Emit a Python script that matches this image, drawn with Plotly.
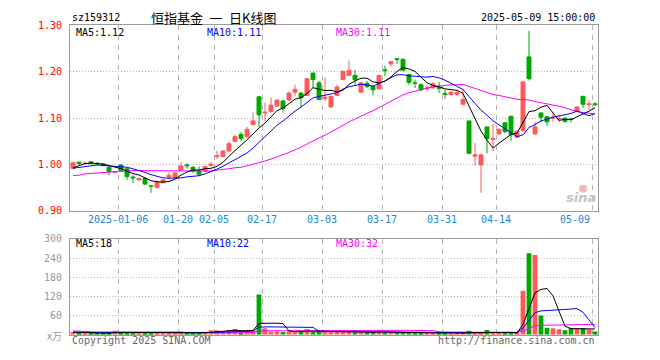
import pandas as pd
import plotly.graph_objects as go

# ---------------- data ----------------
holidays = ["2025-01-01", "2025-01-28", "2025-01-29", "2025-01-30", "2025-01-31",
            "2025-02-03", "2025-02-04", "2025-04-04", "2025-05-01", "2025-05-02", "2025-05-05"]
trade_dates = [d.strftime("%Y-%m-%d") for d in pd.bdate_range("2024-12-24", "2025-05-09")
               if d.strftime("%Y-%m-%d") not in holidays]

opens = [0.992, 1.005, 1.002, 1.006, 1.003, 1.001, 0.994, 0.983, 0.999, 0.991,
         0.973, 0.967, 0.970, 0.954, 0.951, 0.961, 0.973, 0.972, 0.988, 0.999,
         0.994, 0.986, 0.986, 0.998, 1.017, 1.017, 1.029, 1.050, 1.065, 1.060,
         1.086, 1.146, 1.111, 1.114, 1.126, 1.137, 1.139, 1.156, 1.154, 1.149,
         1.197, 1.176, 1.142, 1.124, 1.149, 1.183, 1.192, 1.192, 1.156, 1.175,
         1.168, 1.163, 1.204, 1.217, 1.228, 1.227, 1.194, 1.176, 1.172, 1.163,
         1.165, 1.166, 1.153, 1.151, 1.151, 1.130, 1.094, 1.018, 0.999, 1.081,
         1.054, 1.066, 1.090, 1.104, 1.059, 1.073, 1.232, 1.066, 1.111, 1.103,
         1.100, 1.098, 1.100, 1.098, 1.114, 1.147, 1.129, 1.131]
highs = [1.005, 1.006, 1.006, 1.007, 1.004, 1.002, 0.995, 0.986, 1.001, 0.992,
         0.977, 0.972, 0.972, 0.955, 0.966, 0.968, 0.983, 0.983, 1.005, 1.003,
         0.997, 0.996, 0.997, 1.005, 1.029, 1.031, 1.050, 1.065, 1.070, 1.081,
         1.112, 1.146, 1.133, 1.144, 1.140, 1.139, 1.158, 1.172, 1.156, 1.186,
         1.198, 1.180, 1.187, 1.148, 1.172, 1.202, 1.224, 1.204, 1.177, 1.180,
         1.169, 1.193, 1.213, 1.223, 1.229, 1.228, 1.195, 1.183, 1.175, 1.172,
         1.178, 1.178, 1.161, 1.158, 1.161, 1.163, 1.094, 1.046, 1.022, 1.082,
         1.088, 1.077, 1.091, 1.105, 1.073, 1.179, 1.288, 1.092, 1.113, 1.104,
         1.112, 1.108, 1.101, 1.101, 1.125, 1.148, 1.139, 1.134]
lows = [0.990, 0.999, 1.000, 1.001, 0.999, 0.996, 0.977, 0.981, 0.985, 0.967,
        0.960, 0.965, 0.955, 0.939, 0.948, 0.959, 0.968, 0.971, 0.986, 0.991,
        0.982, 0.977, 0.984, 0.995, 1.012, 1.016, 1.028, 1.048, 1.050, 1.058,
        1.085, 1.081, 1.092, 1.112, 1.125, 1.112, 1.137, 1.147, 1.123, 1.148,
        1.165, 1.139, 1.137, 1.122, 1.148, 1.182, 1.191, 1.172, 1.155, 1.165,
        1.149, 1.162, 1.190, 1.211, 1.217, 1.203, 1.172, 1.165, 1.158, 1.158,
        1.164, 1.154, 1.142, 1.149, 1.147, 1.128, 1.023, 0.997, 0.939, 1.024,
        1.029, 1.064, 1.067, 1.051, 1.057, 1.072, 1.181, 1.064, 1.091, 1.083,
        1.092, 1.091, 1.090, 1.091, 1.113, 1.122, 1.118, 1.125]
closes = [1.004, 1.002, 1.003, 1.002, 1.001, 0.998, 0.985, 0.985, 0.987, 0.974,
          0.971, 0.970, 0.958, 0.953, 0.963, 0.967, 0.977, 0.982, 0.997, 0.997,
          0.986, 0.979, 0.996, 1.001, 1.019, 1.029, 1.045, 1.060, 1.056, 1.076,
          1.094, 1.107, 1.113, 1.128, 1.139, 1.121, 1.154, 1.162, 1.144, 1.185,
          1.183, 1.140, 1.145, 1.147, 1.167, 1.201, 1.203, 1.183, 1.176, 1.168,
          1.161, 1.192, 1.202, 1.222, 1.226, 1.203, 1.177, 1.175, 1.161, 1.165,
          1.174, 1.164, 1.151, 1.156, 1.155, 1.140, 1.024, 1.021, 1.021, 1.056,
          1.056, 1.076, 1.071, 1.064, 1.072, 1.178, 1.185, 1.081, 1.102, 1.092,
          1.102, 1.099, 1.093, 1.097, 1.124, 1.130, 1.131, 1.129]
# volume, 万
volumes = [8, 5, 4, 5, 5, 5, 6, 12, 6, 6,
           5, 4, 5, 5, 6, 5, 5, 5, 6, 5,
           5, 5, 8, 14, 14, 10, 14, 18, 5, 14,
           14, 126, 20, 10, 10, 8, 10, 10, 8, 18,
           8, 8, 8, 8, 10, 10, 10, 7, 7, 7,
           7, 15, 7, 7, 7, 7, 7, 6, 5, 5,
           5, 5, 5, 5, 5, 5, 12, 5, 6, 15,
           5, 5, 5, 6, 6, 138, 255, 250, 60, 22,
           20, 17, 14, 21, 21, 21, 17, 10]

# moving-average values for the first sessions, whose windows start before this range
ma5_head = [0.993, 0.998, 1.002, 1.003]
ma10_head = [0.992, 0.994, 0.996, 0.998, 0.999, 0.998, 0.997, 0.997, 0.996]
ma30_head = [0.976, 0.977, 0.980, 0.981, 0.982, 0.983, 0.983, 0.984, 0.985, 0.986,
             0.987, 0.987, 0.987, 0.986, 0.986, 0.986, 0.986, 0.986, 0.986, 0.986,
             0.986, 0.986, 0.986, 0.986, 0.988, 0.989, 0.991, 0.993, 0.994]
vma5_head = [8, 7, 6, 6]
vma10_head = [7, 7, 7, 7, 6, 6, 6, 6, 6]
vma30_head = [12, 11] + [8] * 17 + [5] * 5 + [6] * 5

tick_dates = ["2025-01-06", "2025-01-20", "2025-02-05", "2025-02-17", "2025-03-03",
              "2025-03-17", "2025-03-31", "2025-04-14", "2025-05-09"]
tick_labels = ["2025-01-06", "01-20", "02-05", "02-17", "03-03",
               "03-17", "03-31", "04-14", "05-09"]
price_ticks = [0.90, 1.00, 1.10, 1.20, 1.30]
volume_ticks = [60, 120, 180, 240, 300]

# ---------------- helpers ----------------
W, H = 660, 360
UP, DOWN = "#ff5a5a", "#00a800"
MONO = "DejaVu Sans Mono"


def moving_average(values, n, head):
    ma = pd.Series(values, dtype=float).rolling(n).mean().tolist()
    return list(head) + ma[len(head):]


def px(x):
    return x / W


def py(y):
    return 1 - y / H


n = len(closes)
xs = [i + 0.5 for i in range(n)]
up = [c >= o for o, c in zip(opens, closes)]

ma5 = moving_average(closes, 5, ma5_head)
ma10 = moving_average(closes, 10, ma10_head)
ma30 = moving_average(closes, 30, ma30_head)
vma5 = moving_average(volumes, 5, vma5_head)
vma10 = moving_average(volumes, 10, vma10_head)
vma30 = moving_average(volumes, 30, vma30_head)

fig = go.Figure()

# ---------------- price panel ----------------
for is_up, color in ((True, UP), (False, DOWN)):
    idx = [i for i in range(n) if up[i] == is_up]
    wx, wy = [], []
    for i in idx:
        wx += [xs[i], xs[i], None]
        wy += [lows[i], highs[i], None]
    fig.add_trace(go.Scatter(x=wx, y=wy, mode="lines", line=dict(color=color, width=1),
                             hoverinfo="skip", xaxis="x", yaxis="y"))
    fig.add_trace(go.Bar(x=[xs[i] for i in idx],
                         y=[abs(closes[i] - opens[i]) for i in idx],
                         base=[min(opens[i], closes[i]) for i in idx],
                         width=0.66, marker=dict(color=color, line=dict(color=color, width=1)),
                         xaxis="x", yaxis="y"))

for vals, color in ((ma30, "#ff00ff"), (ma10, "#0000ff"), (ma5, "#000000")):
    fig.add_trace(go.Scatter(x=xs, y=vals, mode="lines", line=dict(color=color, width=1),
                             xaxis="x", yaxis="y"))

# ---------------- volume panel ----------------
for is_up, color in ((True, UP), (False, DOWN)):
    idx = [i for i in range(n) if up[i] == is_up]
    fig.add_trace(go.Bar(x=[xs[i] for i in idx], y=[volumes[i] for i in idx],
                         width=0.8, marker=dict(color=color, line=dict(width=0)),
                         xaxis="x2", yaxis="y2"))

for vals, color in ((vma30, "#ff00ff"), (vma10, "#0000ff"), (vma5, "#000000")):
    fig.add_trace(go.Scatter(x=xs, y=vals, mode="lines", line=dict(color=color, width=1),
                             xaxis="x2", yaxis="y2"))

# ---------------- axes ----------------
tick_slots = [trade_dates.index(d) for d in tick_dates]
x_dom = [px(70), px(598)]
common_x = dict(domain=x_dom, range=[0, n], tickvals=tick_slots, showticklabels=False,
                showgrid=True, gridcolor="#b4b4b4", griddash="5px,5px", gridwidth=1,
                zeroline=False, showline=True, mirror=True, linecolor="#9a9a9a",
                linewidth=1, ticks="", fixedrange=True)
common_y = dict(showgrid=True, gridcolor="#b4b4b4", griddash="1px,2px", gridwidth=1,
                zeroline=False, showline=True, mirror=True, linecolor="#9a9a9a",
                linewidth=1, ticks="", ticklabelstandoff=5, fixedrange=True)

fig.update_layout(
    width=W, height=H, margin=dict(l=0, r=0, t=0, b=0),
    paper_bgcolor="white", plot_bgcolor="white", showlegend=False, barmode="overlay",
    xaxis=dict(anchor="y", **common_x),
    xaxis2=dict(anchor="y2", matches="x", **common_x),
    yaxis=dict(domain=[py(212), py(20)], range=[0.9, 1.3], tickvals=price_ticks,
               ticktext=[f"{v:.2f}" for v in price_ticks],
               tickfont=dict(family=MONO, size=10, color="#ff0000"), **common_y),
    yaxis2=dict(domain=[py(340), py(241)], range=[0, 300], tickvals=volume_ticks,
                ticktext=[str(v) for v in volume_ticks],
                tickfont=dict(family=MONO, size=10, color="#9a9a9a"), **common_y),
)

# ---------------- texts ----------------
ann = []


def text(x, y, s, color="#000000", size=10, family=MONO, anchor="left", **kw):
    ann.append(dict(x=px(x), y=py(y), xref="paper", yref="paper", text=s, showarrow=False,
                    xanchor=anchor, yanchor="middle",
                    font=dict(family=family, size=size, color=color, **kw)))


text(70, 12, "sz159312")
text(149, 11.5, "恒指基金\u2002一\u2002日K线图", size=13, family="Noto Sans CJK SC")
text(597, 12, "2025-05-09 15:00:00", anchor="right")

text(74, 27, f"MA5:{ma5[-1]:.2f}")
text(205, 27, f"MA10:{ma10[-1]:.2f}", color="#0000ff")
text(334, 27, f"MA30:{ma30[-1]:.2f}", color="#ff00ff")

text(74, 246, f"MA5:{vma5[-1]:.0f}")
text(205, 246, f"MA10:{vma10[-1]:.0f}", color="#0000ff")
text(334, 246, f"MA30:{vma30[-1]:.0f}", color="#ff00ff")

for slot, lab in zip(tick_slots, tick_labels):
    last = slot == tick_slots[-1]
    ann.append(dict(x=slot, y=py(221), xref="x", yref="paper", text=lab, showarrow=False,
                    xanchor="right" if last else "center", yanchor="middle",
                    font=dict(family=MONO, size=10, color="#1a86d8")))

text(64, 341, "x万", color="#9a9a9a", size=10, family="Noto Sans CJK SC", anchor="right")
text(70, 346, "Copyright 2025 SINA.COM", color="#666666")
text(597, 346, "http://finance.sina.com.cn", color="#666666", anchor="right")

# sina mark
text(598, 198, "sina", color="#c4c4c4", size=13, family="DejaVu Sans", anchor="right",
     style="italic", weight="bold")

fig.update_layout(annotations=ann)
fig.add_shape(type="circle", xref="paper", yref="paper",
              x0=px(579), x1=px(587), y0=py(193), y1=py(185),
              fillcolor="#f3b4b4", line=dict(width=0))

fig.write_html("out.html")
